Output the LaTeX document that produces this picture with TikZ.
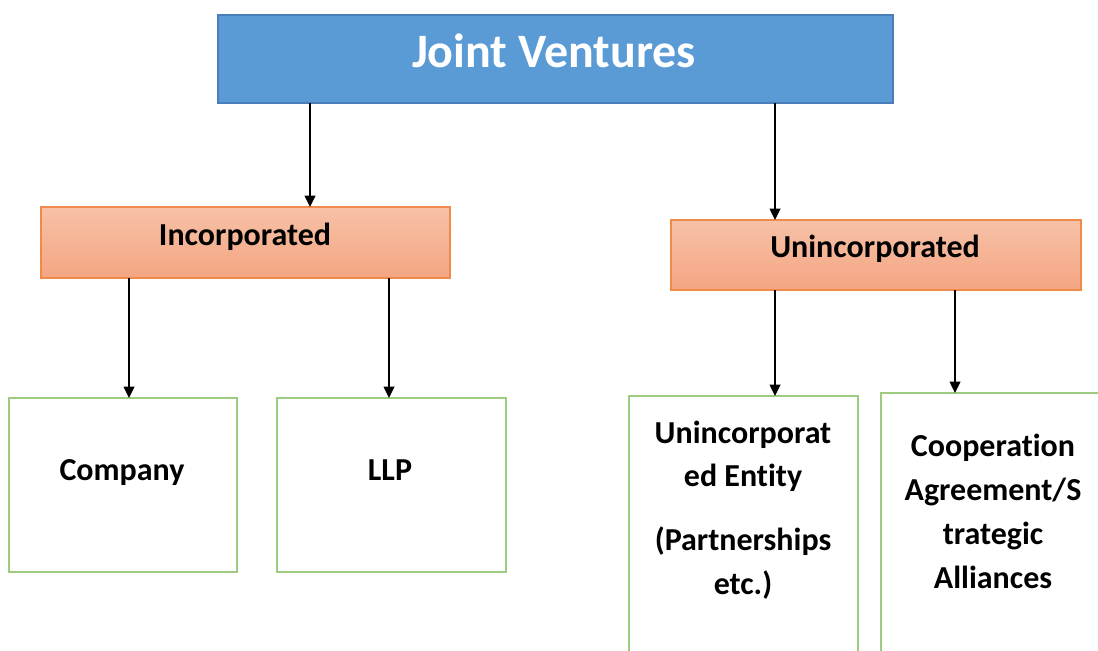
\documentclass[tikz,border=0pt]{standalone}
\usepackage{fontspec}
\setmainfont{Carlito}[Ligatures={NoCommon}]
\usetikzlibrary{arrows.meta}
\definecolor{jvblue}{HTML}{5B9BD5}
\definecolor{jvblueline}{HTML}{4A7EBB}
\definecolor{orTop}{HTML}{F7C1A7}
\definecolor{orBot}{HTML}{F4A582}
\definecolor{orLine}{HTML}{F08A4B}
\definecolor{grLine}{HTML}{9DCC80}
\tikzset{
  box/.style={rectangle, inner sep=0pt, outer sep=0pt, anchor=north west},
  topbox/.style={box, draw=jvblueline, line width=1pt, fill=jvblue},
  midbox/.style={box, draw=orLine, line width=1pt, top color=orTop, bottom color=orBot},
  leafbox/.style={box, draw=grLine, line width=1.5pt, fill=white},
  lbl/.style={inner sep=0pt, anchor=base, font=\fontsize{24}{32.5}\selectfont\bfseries, text=black},
  ttl/.style={inner sep=0pt, anchor=base, font=\fontsize{36}{43}\selectfont\bfseries, text=white},
  arr/.style={draw=black, line width=1.1pt, -{Triangle[length=8.5pt,width=8pt]}}
}
\begin{document}
\begin{tikzpicture}[x=0.75pt,y=-0.75pt]
\useasboundingbox (0,0) rectangle (1098,650);
\clip (0,0) rectangle (1098,650);
\fill[white] (0,0) rectangle (1098,650);
% boxes
\node[topbox, minimum width=506.25pt, minimum height=66pt] (jv) at (218,15) {};
\node[midbox, minimum width=306.75pt, minimum height=53.25pt] (inc) at (41,207) {};
\node[midbox, minimum width=307.5pt, minimum height=52.5pt] (uninc) at (671,220) {};
\node[leafbox, minimum width=171pt, minimum height=130.5pt] (comp) at (9,398) {};
\node[leafbox, minimum width=171.75pt, minimum height=130.5pt] (llp) at (277,398) {};
\node[leafbox, minimum width=171.75pt, minimum height=225pt] (ue) at (629,396) {};
\node[leafbox, minimum width=171.75pt, minimum height=225pt] (ca) at (881,393) {};
% texts
\node[ttl] (tjv) at (554,67) {Joint Ventures};
\node[lbl] (tinc) at (245,245) {Incorporated};
\node[lbl] (tuninc) at (875,257) {Unincorporated};
\node[lbl] (tcomp) at (122,480) {Company};
\node[lbl] (tllp) at (390,480) {LLP};
\node[lbl, align=center] (tue) at (743,594) {Unincorporat\\ed Entity\\[15.5pt](Partnerships\\etc.)};
\node[lbl, align=center, font=\fontsize{24}{33}\selectfont\bfseries] (tca) at (993,588) {Cooperation\\Agreement/S\\trategic\\Alliances};
% arrow columns
\coordinate (c1) at (310,0);
\coordinate (c2) at (775,0);
\coordinate (c3) at (129,0);
\coordinate (c4) at (389,0);
\coordinate (c5) at (775,0);
\coordinate (c6) at (955,0);
\draw[arr] (jv.south -| c1) -- (inc.north -| c1);
\draw[arr] (jv.south -| c2) -- (uninc.north -| c2);
\draw[arr] (inc.south -| c3) -- (comp.north -| c3);
\draw[arr] (inc.south -| c4) -- (llp.north -| c4);
\draw[arr] (uninc.south -| c5) -- (ue.north -| c5);
\draw[arr] (uninc.south -| c6) -- (ca.north -| c6);
\end{tikzpicture}
\end{document}
